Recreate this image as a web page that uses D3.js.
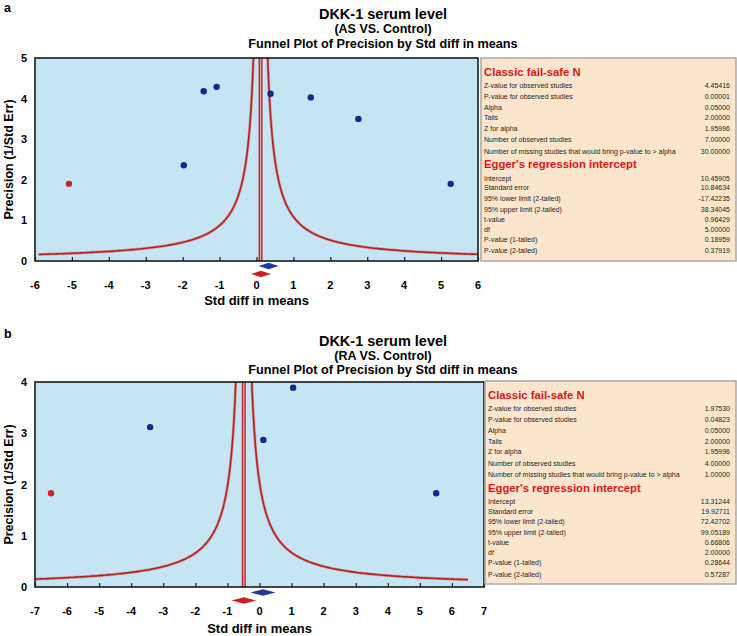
<!DOCTYPE html>
<html><head><meta charset="utf-8">
<script src="https://cdn.jsdelivr.net/npm/d3@7"></script>
<style>
html,body{margin:0;padding:0;background:#fff;}
svg{display:block;font-family:"Liberation Sans",Arial,sans-serif;}
</style></head>
<body>
<svg id="chart" width="737" height="636"></svg>
<script>
// ---------- DATA ----------
const panelLetters = ["a", "b"];
const titleLine1 = ["DKK-1 serum level", "DKK-1 serum level"];
const titleLine2 = ["(AS VS. Control)", "(RA VS. Control)"];
const titleLine3 = ["Funnel Plot of Precision by Std diff in means", "Funnel Plot of Precision by Std diff in means"];
const xAxisTitle = "Std diff in means";
const yAxisTitle = "Precision (1/Std Err)";

// panel a: observed studies (Std diff in means, precision)
const studiesA_x = [-1.97, -1.43, -1.08, 0.38, 1.47, 2.76, 5.26];
const studiesA_y = [2.36, 4.18, 4.29, 4.12, 4.03, 3.50, 1.90];
// imputed study (trim and fill)
const imputedA_x = [-5.08];
const imputedA_y = [1.90];
// panel b
const studiesB_x = [-3.41, 0.12, 1.05, 5.51];
const studiesB_y = [3.12, 2.87, 3.89, 1.83];
const imputedB_x = [-6.50];
const imputedB_y = [1.83];

// combined effects: [observed, adjusted]; half-width of CI diamonds
const observedMean = [0.33, 0.11];
const observedHalf = [0.27, 0.39];
const adjustedMean = [0.12, -0.49];
const adjustedHalf = [0.27, 0.38];
const funnelCenter = [0.11, -0.49];
const funnelZ = [0.97, 1.0];
const funnelXStart = [-5.9, -6.98];
const funnelXEnd = [6.0, 6.5];

const xDomains = [[-6, 6], [-7, 7]];
const yDomains = [[0, 5], [0, 4]];
const xTicksA = [-6, -5, -4, -3, -2, -1, 0, 1, 2, 3, 4, 5, 6];
const xTicksB = [-7, -6, -5, -4, -3, -2, -1, 0, 1, 2, 3, 4, 5, 6, 7];
const yTicksA = [0, 1, 2, 3, 4, 5];
const yTicksB = [0, 1, 2, 3, 4];

const failSafeHeader = "Classic fail-safe N";
const failSafeLabels = ["Z-value for observed studies", "P-value for observed studies", "Alpha", "Tails", "Z for alpha", "Number of observed studies", "Number of missing studies that would bring p-value to > alpha"];
const failSafeA = ["4.45416", "0.00001", "0.05000", "2.00000", "1.95996", "7.00000", "30.00000"];
const failSafeB = ["1.97530", "0.04823", "0.05000", "2.00000", "1.95996", "4.00000", "1.00000"];
const eggerHeader = "Egger's regression intercept";
const eggerLabels = ["Intercept", "Standard error", "95% lower limit (2-tailed)", "95% upper limit (2-tailed)", "t-value", "df", "P-value (1-tailed)", "P-value (2-tailed)"];
const eggerA = ["10.45905", "10.84634", "-17.42235", "38.34045", "0.96429", "5.00000", "0.18959", "0.37919"];
const eggerB = ["13.31244", "19.92711", "72.42702", "99.05189", "0.66806", "2.00000", "0.28644", "0.57287"];

// ---------- LAYOUT ----------
const layouts = [
  {plot: {x0: 35, x1: 478, y0: 58, y1: 261}, info: {x0: 481, x1: 736, y0: 58, y1: 261}, oy: 0, letterY: 12,
   titleY: [18.5, 33, 47.5], tickLabelY: 289, xTitleY: 305, diamY: [266, 274]},
  {plot: {x0: 35, x1: 484, y0: 382, y1: 587}, info: {x0: 485, x1: 736, y0: 381, y1: 584}, oy: 323.4, letterY: 338,
   titleY: [346, 360, 374], tickLabelY: 615, xTitleY: 633, diamY: [592.5, 600.5]}
];

const svg = d3.select("#chart");

const panels = [
  {sx: studiesA_x, sy: studiesA_y, ix: imputedA_x, iy: imputedA_y, xt: xTicksA, yt: yTicksA, fs: failSafeA, eg: eggerA},
  {sx: studiesB_x, sy: studiesB_y, ix: imputedB_x, iy: imputedB_y, xt: xTicksB, yt: yTicksB, fs: failSafeB, eg: eggerB}
];

panels.forEach((P, i) => {
  const L = layouts[i];
  const g = svg.append("g");
  const x = d3.scaleLinear().domain(xDomains[i]).range([L.plot.x0, L.plot.x1]);
  const y = d3.scaleLinear().domain(yDomains[i]).range([L.plot.y1, L.plot.y0]);

  // letter
  g.append("text").attr("x", 4).attr("y", L.letterY).attr("font-size", 12.5).attr("font-weight", "bold").text(panelLetters[i]);
  // titles
  const tcx = 383;
  [[titleLine1[i], 14.5], [titleLine2[i], 12.5], [titleLine3[i], 12.7]].forEach((t, k) => {
    g.append("text").attr("x", tcx).attr("y", L.titleY[k]).attr("text-anchor", "middle")
      .attr("font-size", t[1]).attr("font-weight", "bold").text(t[0]);
  });

  // plot background
  g.append("rect").attr("x", L.plot.x0).attr("y", L.plot.y0)
    .attr("width", L.plot.x1 - L.plot.x0).attr("height", L.plot.y1 - L.plot.y0)
    .attr("fill", "#c5e5f5");

  const clipId = "clip" + i;
  g.append("clipPath").attr("id", clipId).append("rect")
    .attr("x", L.plot.x0).attr("y", L.plot.y0)
    .attr("width", L.plot.x1 - L.plot.x0).attr("height", L.plot.y1 - L.plot.y0);
  const pg = g.append("g").attr("clip-path", `url(#${clipId})`);

  // funnel curves
  const m = funnelCenter[i], z = funnelZ[i];
  const yMax = yDomains[i][1] + 0.2;
  const pStartL = z / (m - funnelXStart[i]);
  const pEndR = z / (funnelXEnd[i] - m);
  const nSteps = 300;
  const leftPts = d3.range(nSteps + 1).map(k => { const p = pStartL + (yMax - pStartL) * Math.pow(k / nSteps, 2); return [m - z / p, p]; });
  const rightPts = d3.range(nSteps + 1).map(k => { const p = pEndR + (yMax - pEndR) * Math.pow(k / nSteps, 2); return [m + z / p, p]; });
  const line = d3.line().x(d => x(d[0])).y(d => y(d[1]));
  [leftPts, rightPts].forEach(pts => {
    pg.append("path").attr("d", line(pts)).attr("fill", "none").attr("stroke", "#e09a9a").attr("stroke-width", 3);
    pg.append("path").attr("d", line(pts)).attr("fill", "none").attr("stroke", "#a82828").attr("stroke-width", 1.6);
  });
  // vertical mean line
  pg.append("line").attr("x1", x(m)).attr("x2", x(m)).attr("y1", L.plot.y0).attr("y2", L.plot.y1)
    .attr("stroke", "#b02a2a").attr("stroke-width", 4);
  pg.append("line").attr("x1", x(m)).attr("x2", x(m)).attr("y1", L.plot.y0).attr("y2", L.plot.y1)
    .attr("stroke", "#e7a0a0").attr("stroke-width", 1.3);

  // points
  pg.selectAll("circle.obs").data(d3.zip(P.sx, P.sy)).join("circle").attr("class", "obs")
    .attr("cx", d => x(d[0])).attr("cy", d => y(d[1])).attr("r", 3.2).attr("fill", "#0d2a8c");
  pg.selectAll("circle.imp").data(d3.zip(P.ix, P.iy)).join("circle").attr("class", "imp")
    .attr("cx", d => x(d[0])).attr("cy", d => y(d[1])).attr("r", 3.2).attr("fill", "#d42020");

  // frame
  g.append("rect").attr("x", L.plot.x0).attr("y", L.plot.y0)
    .attr("width", L.plot.x1 - L.plot.x0).attr("height", L.plot.y1 - L.plot.y0)
    .attr("fill", "none").attr("stroke", "#1a1a1a").attr("stroke-width", 1.6);

  // x axis ticks (inward) and labels
  const xAxis = d3.axisTop(x).tickValues(P.xt).tickSize(4).tickFormat("");
  g.append("g").attr("transform", `translate(0,${L.plot.y1})`).call(xAxis)
    .call(s => s.select(".domain").remove())
    .call(s => s.selectAll("line").attr("stroke", "#1a1a1a").attr("stroke-width", 1.2));
  g.selectAll("text.xt").data(P.xt).join("text").attr("class", "xt")
    .attr("x", d => x(d)).attr("y", L.tickLabelY).attr("text-anchor", "middle")
    .attr("font-size", 11).attr("font-weight", "bold").text(d => d);
  // y labels
  const yAxis = d3.axisLeft(y).tickValues(P.yt).tickSize(0).tickPadding(8).tickFormat(d3.format("d"));
  g.append("g").attr("transform", `translate(${L.plot.x0},0)`).call(yAxis)
    .call(s => s.select(".domain").remove())
    .call(s => s.selectAll("text").attr("font-size", 11).attr("font-weight", "bold").attr("fill", "#000")
      .attr("font-family", "Liberation Sans, Arial, sans-serif"));

  // axis titles
  g.append("text").attr("x", (L.plot.x0 + L.plot.x1) / 2).attr("y", L.xTitleY).attr("text-anchor", "middle")
    .attr("font-size", 13).attr("font-weight", "bold").text(xAxisTitle);
  g.append("text").attr("transform", `translate(13,${(L.plot.y0 + L.plot.y1) / 2}) rotate(-90)`)
    .attr("text-anchor", "middle").attr("font-size", 12.5).attr("font-weight", "bold").text(yAxisTitle);

  // combined-effect diamonds
  const diam = (c, h, yy) => `M${x(c - h)},${yy}L${x(c)},${yy - 3.2}L${x(c + h)},${yy}L${x(c)},${yy + 3.2}Z`;
  g.append("path").attr("d", diam(observedMean[i], observedHalf[i], L.diamY[0])).attr("fill", "#1f3a9a");
  g.append("path").attr("d", diam(adjustedMean[i], adjustedHalf[i], L.diamY[1])).attr("fill", "#cc2020");

  // info panel
  const I = L.info;
  g.append("rect").attr("x", I.x0).attr("y", I.y0).attr("width", I.x1 - I.x0).attr("height", I.y1 - I.y0)
    .attr("fill", "#fbe6cd").attr("stroke", "#a8a8a8").attr("stroke-width", 1.5);
  const oy = L.oy;
  const tx = I.x0 + 3, vx = 730;
  const fsz = 7;
  g.append("text").attr("x", tx).attr("y", 75.7 + oy).attr("font-size", 11.3).attr("font-weight", "bold")
    .attr("fill", "#dd1515").text(failSafeHeader);
  const fsY = [88, 98.8, 109.6, 120.3, 131, 142.3, 153.5];
  failSafeLabels.forEach((lab, k) => {
    g.append("text").attr("x", tx).attr("y", fsY[k] + oy).attr("font-size", fsz).attr("fill", "#222").text(lab);
    g.append("text").attr("x", vx).attr("y", fsY[k] + oy).attr("font-size", fsz).attr("fill", "#222")
      .attr("text-anchor", "end").text(P.fs[k]);
  });
  g.append("text").attr("x", tx).attr("y", 168.3 + oy).attr("font-size", 11.3).attr("font-weight", "bold")
    .attr("fill", "#dd1515").text(eggerHeader);
  const egY = [180.6, 190.4, 201, 211.6, 221.6, 231.6, 241.6, 253.2];
  eggerLabels.forEach((lab, k) => {
    g.append("text").attr("x", tx).attr("y", egY[k] + oy).attr("font-size", fsz).attr("fill", "#222").text(lab);
    g.append("text").attr("x", vx).attr("y", egY[k] + oy).attr("font-size", fsz).attr("fill", "#222")
      .attr("text-anchor", "end").text(P.eg[k]);
  });
});
</script>
</body></html>
